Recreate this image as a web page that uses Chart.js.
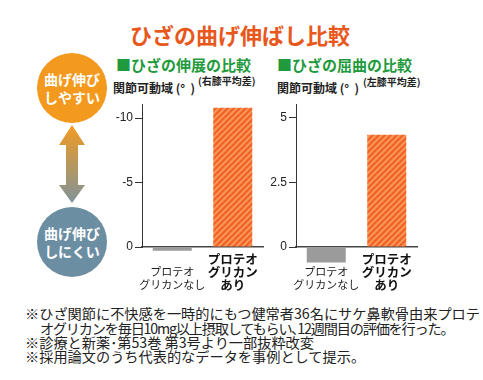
<!DOCTYPE html>
<html lang="ja">
<head>
<meta charset="utf-8">
<script src="https://cdn.jsdelivr.net/npm/chart.js@4/dist/chart.umd.min.js"></script>
<style>
    body { margin: 0; width: 483px; height: 380px; overflow: hidden; background: #fff;
        font-family: "Noto Sans CJK JP", "Noto Sans", sans-serif; position: relative; }
    .abs { position: absolute; white-space: nowrap; }
    .titulo { left: 0; width: 480px; top: 23px; text-align: center; font-size: 22px; line-height: 22px;
        font-weight: 700; color: #e8581c; }
    .subtitulo { font-size: 15px; line-height: 15px; font-weight: 700; color: #1f9a3c; }
    .eje { font-size: 12px; line-height: 12px; font-weight: 700; color: #222; }
    .nota-eje { font-size: 10px; line-height: 10px; font-weight: 700; color: #222; }
    .circulo { width: 70px; height: 70px; border-radius: 50%; color: #fff; font-size: 14px; font-weight: 700;
        line-height: 18px; display: flex; align-items: center; justify-content: center; text-align: center; }
    .nota { left: 25px; font-size: 14.2px; line-height: 14px; color: #222; }
    canvas { position: absolute; }
</style>
</head>
<body>
<div class="abs titulo">ひざの曲げ伸ばし比較</div>

<div class="abs circulo" style="left:37px; top:53px; background:#f39a1e;">曲げ伸び<br>しやすい</div>
<svg class="abs" style="left:55px; top:122px;" width="34" height="84">
    <defs>
        <linearGradient id="degradado" x1="0" y1="0" x2="0" y2="1">
            <stop offset="0" stop-color="#f29b22"/>
            <stop offset="1" stop-color="#7f9398"/>
        </linearGradient>
    </defs>
    <polygon points="17,3 30,23 23,23 23,63 30,63 17,81 4,63 11,63 11,23 4,23" fill="url(#degradado)"/>
</svg>
<div class="abs circulo" style="left:37px; top:207px; background:#6b8ea3;">曲げ伸び<br>しにくい</div>

<div class="abs subtitulo" style="left:116px; top:57px;">■ひざの伸展の比較</div>
<div class="abs eje" style="left:113px; top:82px;">関節可動域 (°&nbsp;&nbsp;)</div>
<div class="abs nota-eje" style="left:198px; top:76px;">(右膝平均差)</div>

<div class="abs subtitulo" style="left:277px; top:57px;">■ひざの屈曲の比較</div>
<div class="abs eje" style="left:277px; top:82px;">関節可動域 (°&nbsp;&nbsp;)</div>
<div class="abs nota-eje" style="left:363px; top:77px;">(左膝平均差)</div>

<canvas id="graficoExtension" width="170" height="205" style="left:100px; top:95px;"></canvas>
<canvas id="graficoFlexion" width="170" height="205" style="left:254px; top:95px;"></canvas>

<div class="abs nota" style="top:306px;">※ひざ関節に不快感を一時的にもつ健常者36名にサケ鼻軟骨由来プロテ</div>
<div class="abs nota" style="top:321px; left:40px; letter-spacing:-1.2px;">オグリカンを毎日10mg以上摂取してもらい､12週間目の評価を行った。</div>
<div class="abs nota" style="top:335px;">※診療と新薬･第53巻 第3号より一部抜粋改変</div>
<div class="abs nota" style="top:349px;">※採用論文のうち代表的なデータを事例として提示。</div>

<script>
const categorias = [["プロテオ", "グリカンなし"], ["プロテオ", "グリカン", "あり"]];
const valoresExtension = [0.3, -10.8];
const valoresFlexion = [-0.6, 4.35];
const ticksExtension = [-10, -5, 0];
const ticksFlexion = [0, 2.5, 5];

const colorGris = "#9b9b9b";
const colorEje = "#333";
const fuente = "'Noto Sans CJK JP', sans-serif";

Chart.defaults.font.family = fuente;
Chart.defaults.animation = false;

function rayado() {
    const c = document.createElement("canvas");
    c.width = 6;
    c.height = 6;
    const g = c.getContext("2d");
    g.fillStyle = "#f26524";
    g.fillRect(0, 0, 6, 6);
    g.strokeStyle = "#f89a62";
    g.lineWidth = 1.8;
    g.beginPath();
    g.moveTo(-1, 7); g.lineTo(7, -1);
    g.moveTo(-1, 1); g.lineTo(1, -1);
    g.moveTo(5, 7); g.lineTo(7, 5);
    g.stroke();
    return g.createPattern(c, "repeat");
}

function opciones(ticks, min, max, invertido) {
    return {
        responsive: false,
        layout: { padding: { left: 0, right: 7, top: 7, bottom: 0 } },
        scales: {
            x: {
                z: 1,
                grid: { display: false, drawTicks: false },
                border: { color: "#444", width: 1.5 },
                afterFit: (eje) => { eje.height = 53; },
                ticks: {
                    padding: 6,
                    autoSkip: false,
                    maxRotation: 0,
                    minRotation: 0,
                    color: (ctx) => (ctx.index === 0 ? "#222" : "#111"),
                    font: (ctx) => (ctx.index === 0
                        ? { family: fuente, size: 11, weight: "400", lineHeight: 1.15 }
                        : { family: fuente, size: 12.5, weight: "700", lineHeight: 1.02 }),
                    callback: function (valor, i) {
                        return i === 0 ? [""].concat(categorias[i]) : categorias[i];
                    },
                },
            },
            y: {
                reverse: invertido,
                min: min,
                max: max,
                afterFit: (eje) => { eje.width = 42; },
                afterBuildTicks: (eje) => { eje.ticks = ticks.map((v) => ({ value: v })); },
                grid: { drawOnChartArea: false, color: colorEje, tickLength: 7 },
                border: { color: colorEje, width: 1 },
                ticks: {
                    padding: 2,
                    color: "#222",
                    font: { family: "'Liberation Sans', sans-serif", size: 12 },
                },
            },
        },
        plugins: { legend: { display: false }, tooltip: { enabled: false } },
    };
}

function datos(valores) {
    return {
        labels: categorias,
        datasets: [
            {
                data: valores,
                backgroundColor: [colorGris, rayado()],
                borderWidth: 0,
                barPercentage: 0.645,
                categoryPercentage: 1,
                clip: false,
            },
        ],
    };
}

new Chart(document.getElementById("graficoExtension"), {
    type: "bar",
    data: datos(valoresExtension),
    options: opciones(ticksExtension, -11.07, 0, true),
});

new Chart(document.getElementById("graficoFlexion"), {
    type: "bar",
    data: datos(valoresFlexion),
    options: opciones(ticksFlexion, 0, 5.53, false),
});
</script>
</body>
</html>
